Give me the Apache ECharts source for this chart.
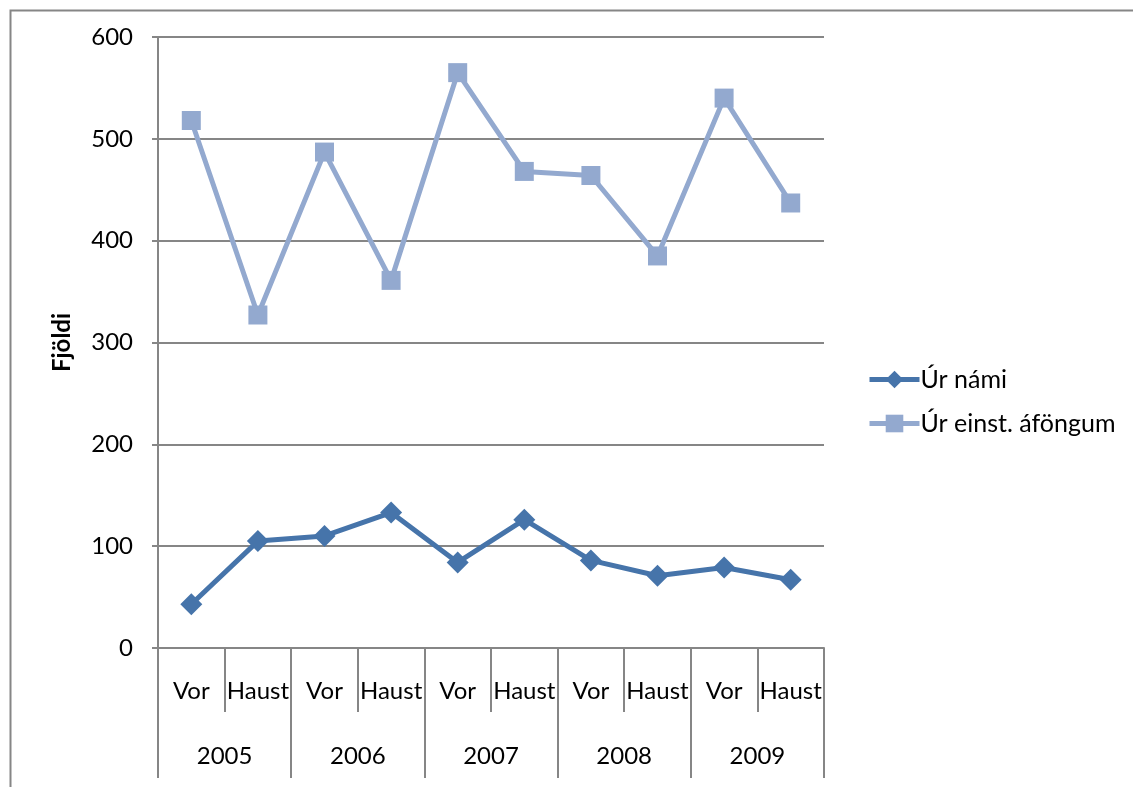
<!DOCTYPE html>
<html>
<head>
<meta charset="utf-8">
<script src="https://cdn.jsdelivr.net/npm/echarts@6/dist/echarts.min.js"></script>
<style>
html,body{margin:0;padding:0;background:#fff;}
#chart{width:1133px;height:787px;}
</style>
</head>
<body>
<div id="chart"></div>
<script>
const seasons = ['Vor','Haust','Vor','Haust','Vor','Haust','Vor','Haust','Vor','Haust'];
const years = ['2005','2006','2007','2008','2009'];
const urNami = [43, 105, 110, 133, 84, 126, 86, 71, 79, 67];
const urEinst = [518, 327, 487, 361, 565, 468, 464, 385, 540, 437];
const seriesNames = ['Úr námi', 'Úr einst. áföngum'];
const yTicks = {min: 0, max: 600, interval: 100};

const FONT = 'Lato';
const AX = '#868686';
const FS = 24;
const chart = echarts.init(document.getElementById('chart'));
chart.setOption({
  animation: false,
  backgroundColor: '#fff',
  textStyle: {fontFamily: FONT},
  graphic: [{
    type: 'rect', left: 8, top: 8, silent: true,
    shape: {width: 2000, height: 2000},
    style: {fill: 'none', stroke: AX, lineWidth: 2}
  }],
  grid: {left: 158, right: 309, top: 37, bottom: 139, containLabel: false},
  legend: {
    orient: 'vertical', left: 862, top: 362,
    itemWidth: 50, itemHeight: 22, itemGap: 19,
    lineStyle: {width: 5},
    textStyle: {fontFamily: FONT, fontSize: 25, color: '#000', padding: [0,0,0,-4]},
    data: seriesNames
  },
  xAxis: [{
    type: 'category', data: seasons, boundaryGap: true, position: 'bottom',
    axisLine: {show: true, lineStyle: {color: AX, width: 2}},
    axisTick: {show: true, interval: 0, length: 64, lineStyle: {color: AX, width: 2}},
    axisLabel: {interval: 0, margin: 31, fontSize: FS, color: '#000', fontFamily: FONT}
  }, {
    type: 'category', data: years, boundaryGap: true, position: 'bottom',
    axisLine: {show: false},
    axisTick: {show: true, interval: 0, length: 130, lineStyle: {color: AX, width: 2}},
    axisLabel: {interval: 0, margin: 96, fontSize: FS, color: '#000', fontFamily: FONT}
  }],
  yAxis: {
    type: 'value', min: yTicks.min, max: yTicks.max, interval: yTicks.interval,
    name: 'Fjöldi', nameLocation: 'middle', nameRotate: 90, nameGap: 84,
    nameTextStyle: {fontFamily: FONT, fontSize: FS, fontWeight: 'bold', color: '#000'},
    axisLine: {show: true, lineStyle: {color: AX, width: 2}},
    axisTick: {show: true, length: 6, lineStyle: {color: AX, width: 2}},
    splitLine: {show: true, lineStyle: {color: AX, width: 2}},
    axisLabel: {margin: 25, fontSize: FS, color: '#000', fontFamily: FONT}
  },
  series: [{
    name: seriesNames[0], type: 'line', data: urNami, xAxisIndex: 0,
    symbol: 'diamond', symbolSize: 22,
    lineStyle: {color: '#4674AA', width: 5},
    itemStyle: {color: '#4674AA'},
    z: 3
  }, {
    name: seriesNames[1], type: 'line', data: urEinst, xAxisIndex: 0,
    symbol: 'rect', symbolSize: 19,
    lineStyle: {color: '#93A9CF', width: 5},
    itemStyle: {color: '#93A9CF'},
    z: 2
  }]
});
</script>
</body>
</html>
